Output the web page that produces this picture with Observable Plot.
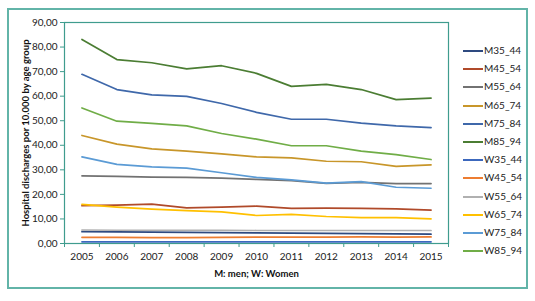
<!DOCTYPE html>
<html>
<head>
<meta charset="utf-8">
<script src="https://cdn.jsdelivr.net/npm/d3@7"></script>
<script src="https://cdn.jsdelivr.net/npm/@observablehq/plot@0.6"></script>
<style>
  body { margin: 0; background: #fff; }
  #wrap { position: relative; width: 535px; height: 301px; overflow: hidden; font-family: Lato, "Open Sans", sans-serif; }
  #border { position: absolute; left: 7px; top: 8px; width: 517px; height: 277px; border: 2px solid #62b4a8; }
  #chart { position: absolute; left: 0; top: 0; }
  #legend { position: absolute; left: 463px; top: 0; }
  .li { position: absolute; left: 0; height: 12px; width: 70px; font-size: 10px; color: #222; white-space: nowrap; }
  .li span.sw { position: absolute; left: 0; top: 5px; width: 20px; height: 2px; }
  .li span.tx { position: absolute; left: 21px; top: -1px; }
</style>
</head>
<body>
<div id="wrap">
  <div id="border"></div>
  <div id="chart"></div>
  <div id="legend"></div>
</div>
<script>
const years = [2005, 2006, 2007, 2008, 2009, 2010, 2011, 2012, 2013, 2014, 2015];
const seriesNames = ["M35_44", "M45_54", "M55_64", "M65_74", "M75_84", "M85_94",
                     "W35_44", "W45_54", "W55_64", "W65_74", "W75_84", "W85_94"];
const seriesColors = ["#2e4a80", "#b04a2a", "#727272", "#c8962a", "#3f68aa", "#4b7d33",
                      "#3c68bd", "#ed7d31", "#b0b0b0", "#ffc000", "#5b9bd5", "#70ad47"];

const M35_44 = [4.8, 4.7, 4.6, 4.5, 4.4, 4.3, 4.2, 4.1, 4.0, 3.9, 3.8];
const M45_54 = [15.4, 15.6, 16.0, 14.5, 14.8, 15.2, 14.3, 14.4, 14.3, 14.1, 13.6];
const M55_64 = [27.5, 27.3, 27.0, 26.9, 26.6, 26.1, 25.6, 24.5, 24.9, 24.4, 24.4];
const M65_74 = [44.0, 40.5, 38.5, 37.6, 36.5, 35.3, 34.9, 33.5, 33.3, 31.4, 32.0];
const M75_84 = [68.9, 62.7, 60.5, 59.9, 57.0, 53.4, 50.6, 50.6, 49.0, 47.9, 47.2];
const M85_94 = [83.1, 74.9, 73.6, 71.1, 72.4, 69.3, 64.0, 64.8, 62.7, 58.6, 59.2];
const W35_44 = [0.7, 0.7, 0.7, 0.7, 0.7, 0.7, 0.7, 0.7, 0.7, 0.7, 0.7];
const W45_54 = [2.5, 2.5, 2.4, 2.4, 2.5, 2.6, 2.6, 2.6, 2.7, 2.6, 2.7];
const W55_64 = [5.5, 5.4, 5.4, 5.4, 5.4, 5.3, 5.3, 5.3, 5.3, 5.3, 5.3];
const W65_74 = [15.9, 14.8, 14.0, 13.4, 12.9, 11.4, 11.9, 11.0, 10.5, 10.5, 10.0];
const W75_84 = [35.3, 32.2, 31.2, 30.7, 28.8, 26.9, 25.9, 24.6, 25.2, 22.9, 22.5];
const W85_94 = [55.2, 49.8, 48.9, 47.9, 44.8, 42.5, 39.8, 39.8, 37.6, 36.2, 34.2];

const yTicks = [0, 10, 20, 30, 40, 50, 60, 70, 80, 90];
const yLabel = "Hospital discharges por 10.000 by age group";
const xLabel = "M: men; W: Women";

const allSeries = [M35_44, M45_54, M55_64, M65_74, M75_84, M85_94,
                   W35_44, W45_54, W55_64, W65_74, W75_84, W85_94];
const data = [];
seriesNames.forEach((name, i) => {
  years.forEach((yr, j) => data.push({series: name, year: yr, value: allSeries[i][j]}));
});
const boundaries = years.map(y => y - 0.5).concat([years[years.length - 1] + 0.5]);
const teal = "#3f9c8e";
const fmt = v => v.toFixed(2).replace(".", ",");

const chart = Plot.plot({
  width: 535,
  height: 301,
  marginLeft: 64,
  marginRight: 87,
  marginTop: 22,
  marginBottom: 58,
  style: {fontFamily: "Lato, 'Open Sans', sans-serif", fontSize: "10px", color: "#222", background: "transparent"},
  x: {type: "linear", domain: [years[0] - 0.5, years[years.length - 1] + 0.5]},
  y: {domain: [0, 90]},
  color: {domain: seriesNames, range: seriesColors},
  marks: [
    Plot.frame({stroke: teal, strokeWidth: 1.2}),
    Plot.axisY({ticks: yTicks, tickFormat: fmt, tickSize: 4, stroke: teal, tickPadding: 3, label: null, fontSize: 10}),
    Plot.axisX({ticks: boundaries, tickFormat: () => "", tickSize: 4, stroke: teal, label: null}),
    Plot.axisX({ticks: years, tickFormat: d => String(d), tickSize: 0, tickPadding: 9, label: null, fontSize: 10}),
    Plot.line(data, {x: "year", y: "value", z: "series", stroke: "series", strokeWidth: 1.7}),
    Plot.text([xLabel], {frameAnchor: "bottom", dy: 33, fontWeight: "bold", fontSize: 9.5, fill: "#111"}),
    Plot.text([yLabel], {frameAnchor: "left", textAnchor: "middle", dx: -39, rotate: -90, fontWeight: "bold", fontSize: 9.5, fill: "#111"})
  ]
});
document.getElementById("chart").appendChild(chart);

const legend = document.getElementById("legend");
const legendTop = 51, legendStep = 18.2;
seriesNames.forEach((name, i) => {
  const item = document.createElement("div");
  item.className = "li";
  item.style.top = (legendTop + i * legendStep - 6) + "px";
  item.innerHTML = `<span class="sw" style="background:${seriesColors[i]}"></span><span class="tx">${name}</span>`;
  legend.appendChild(item);
});
</script>
</body>
</html>
